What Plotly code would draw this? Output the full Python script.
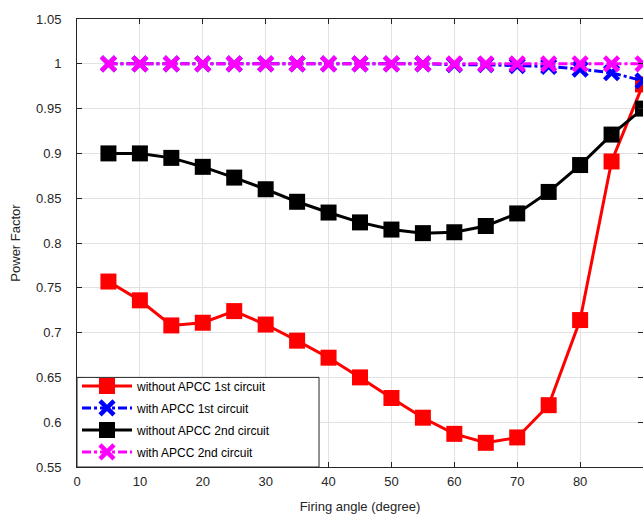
import plotly.graph_objects as go

angles = [5, 10, 15, 20, 25, 30, 35, 40, 45, 50, 55, 60, 65, 70, 75, 80, 85, 90]
pf_without_1st = [0.757, 0.736, 0.708, 0.711, 0.724, 0.709, 0.691, 0.672, 0.650, 0.627,
                  0.605, 0.587, 0.577, 0.583, 0.619, 0.714, 0.891, 0.977]
pf_with_1st = [1.0, 1.0, 1.0, 1.0, 1.0, 1.0, 1.0, 1.0, 1.0, 1.0,
               1.0, 0.999, 0.999, 0.998, 0.997, 0.994, 0.990, 0.981]
pf_without_2nd = [0.900, 0.900, 0.895, 0.885, 0.873, 0.860, 0.846, 0.834, 0.823, 0.815,
                  0.811, 0.812, 0.819, 0.833, 0.857, 0.887, 0.921, 0.950]
pf_with_2nd = [1.0] * 18

x_ticks = [0, 10, 20, 30, 40, 50, 60, 70, 80, 90]
x_ticklabels = ["0", "10", "20", "30", "40", "50", "60", "70", "80", "90"]
y_ticks = [0.55, 0.6, 0.65, 0.7, 0.75, 0.8, 0.85, 0.9, 0.95, 1.0, 1.05]
y_ticklabels = ["0.55", "0.6", "0.65", "0.7", "0.75", "0.8", "0.85", "0.9", "0.95", "1", "1.05"]

series = [
    ("without APCC 1st circuit", pf_without_1st, "#ff0000", "solid", "square"),
    ("with APCC 1st circuit", pf_with_1st, "#0000ff", "dashdot", "x"),
    ("without APCC 2nd circuit", pf_without_2nd, "#000000", "solid", "square"),
    ("with APCC 2nd circuit", pf_with_2nd, "#ff00ff", "dashdot", "x"),
]

fig = go.Figure()
for i, (name, vals, color, dash, sym) in enumerate(series):
    if sym == "square":
        marker = dict(symbol="square", size=16, color=color)
    else:
        marker = dict(symbol="x-thin", size=14, color=color, line=dict(width=4.5, color=color))
    fig.add_trace(go.Scatter(
        x=angles, y=vals, name=name, mode="lines+markers",
        line=dict(color=color, width=3, dash=dash),
        marker=marker, cliponaxis=False, legendgroup=f"g{i}",
    ))

font_family = "Liberation Sans, Arial, sans-serif"
axis_common = dict(
    showline=True, linecolor="#262626", linewidth=1, mirror="ticks",
    ticks="inside", ticklen=5, tickcolor="#262626",
    showgrid=True, gridcolor="#e2e2e2", gridwidth=1, zeroline=False,
    tickfont=dict(family=font_family, size=13, color="#262626"),
)

# legend frame (white box with dark border), in plot-fraction coordinates
fig.add_shape(type="rect", xref="paper", yref="paper", x0=0, x1=0.4276, y0=0, y1=0.2,
              fillcolor="white", line=dict(color="#262626", width=1), layer="above")

fig.update_layout(
    width=643, height=515, autosize=False,
    margin=dict(l=77, r=0, t=19, b=48),
    paper_bgcolor="white", plot_bgcolor="white",
    font=dict(family=font_family, color="#262626"),
    xaxis=dict(range=[0, 90], tickvals=x_ticks, ticktext=x_ticklabels,
               title=dict(text="Firing angle (degree)", font=dict(size=13, color="#262626"), standoff=14),
               ticklabelstandoff=2, **axis_common),
    yaxis=dict(range=[0.55, 1.05], tickvals=y_ticks, ticktext=y_ticklabels,
               title=dict(text="Power Factor", font=dict(size=13, color="#262626"), standoff=12),
               ticklabelstandoff=12, **axis_common),
    legend=dict(x=0, y=0.2134, xanchor="left", yanchor="top", bgcolor="rgba(0,0,0,0)",
                borderwidth=0, itemwidth=50,
                font=dict(family=font_family, size=12, color="#000000"),
                tracegroupgap=3),
    showlegend=True,
)

fig.write_html("out.html")
